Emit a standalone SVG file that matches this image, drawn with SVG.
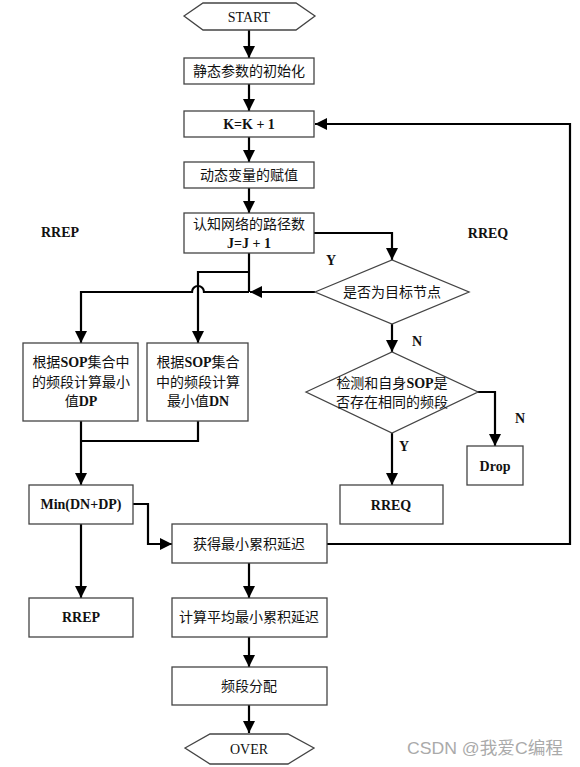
<svg xmlns="http://www.w3.org/2000/svg" width="580" height="767" viewBox="0 0 580 767">
<defs>
<marker id="ah" markerUnits="userSpaceOnUse" markerWidth="12" markerHeight="12" viewBox="0 0 12 12" refX="12" refY="6" orient="auto">
<path d="M0,0 L12,6 L0,12 z" fill="#000"/>
</marker>
<style>
.b{fill:#fff;stroke:#444;stroke-width:1.3}
.c{fill:none;stroke:#000;stroke-width:2.2}
.a{marker-end:url(#ah)}
.t{font-family:"Liberation Serif","Noto Sans CJK SC",serif;font-size:14px;fill:#111;text-anchor:middle;dominant-baseline:central}
.e{font-weight:bold}
.w{font-family:"Liberation Sans","Noto Sans CJK SC",sans-serif;font-size:17px;fill:#aaa}
</style>
</defs>
<rect width="580" height="767" fill="#fff"/>
<g id="connectors">
<path class="c a" d="M249,30 V58"/>
<path class="c a" d="M249,84 V111"/>
<path class="c a" d="M249,137 V162"/>
<path class="c a" d="M249,188 V213"/>
<path class="c a" d="M314,233 H392 V260"/>
<path class="c a" d="M315,292 H250"/>
<path class="c" d="M249,253 V292"/>
<path class="c a" d="M249,272 H198 V343"/>
<path class="c a" d="M249,292 H204 A6,6 0 0 0 192,292 H81 V343"/>
<path class="c" d="M198,421 V441 H81"/>
<path class="c a" d="M81,421 V485"/>
<path class="c a" d="M133,504 H148 V544 H172"/>
<path class="c a" d="M81,524 V598"/>
<path class="c a" d="M249,563 V598"/>
<path class="c a" d="M249,637 V667"/>
<path class="c a" d="M249,705 V733"/>
<path class="c a" d="M327,544 H570 V124 H315"/>
<path class="c a" d="M392,323 V352"/>
<path class="c a" d="M477,392 H495 V446"/>
<path class="c a" d="M392,433 V485"/>
</g>
<g id="start">
<polygon class="b" points="184,16 203,3 296,3 315,16 296,30 203,30"/>
<text class="t" x="249" y="17">START</text>
</g>
<g id="init">
<rect class="b" x="184" y="58" width="130" height="26"/>
<text class="t" x="249" y="71">静态参数的初始化</text>
</g>
<g id="kinc">
<rect class="b" x="184" y="111" width="130" height="26"/>
<text class="t e" x="249" y="124">K=K + 1</text>
</g>
<g id="assign">
<rect class="b" x="184" y="162" width="130" height="26"/>
<text class="t" x="249" y="175">动态变量的赋值</text>
</g>
<g id="paths">
<rect class="b" x="184" y="213" width="130" height="40"/>
<text class="t" x="249" y="224">认知网络的路径数</text>
<text class="t e" x="249" y="243">J=J + 1</text>
</g>
<g id="isdest">
<polygon class="b" points="315,292 392,260 469,292 392,324"/>
<text class="t" x="392" y="292">是否为目标节点</text>
</g>
<g id="dp">
<rect class="b" x="23" y="343" width="115" height="78"/>
<text class="t" x="81" y="362">根据<tspan class="e">SOP</tspan>集合中</text>
<text class="t" x="81" y="382">的频段计算最小</text>
<text class="t" x="81" y="401">值<tspan class="e">DP</tspan></text>
</g>
<g id="dn">
<rect class="b" x="147" y="343" width="101" height="78"/>
<text class="t" x="198" y="362">根据<tspan class="e">SOP</tspan>集合</text>
<text class="t" x="198" y="382">中的频段计算</text>
<text class="t" x="198" y="401">最小值<tspan class="e">DN</tspan></text>
</g>
<g id="check">
<polygon class="b" points="306,392 392,352 478,392 392,433"/>
<text class="t" x="392" y="383">检测和自身<tspan class="e">SOP</tspan>是</text>
<text class="t" x="392" y="402">否存在相同的频段</text>
</g>
<g id="drop">
<rect class="b" x="467" y="446" width="56" height="39"/>
<text class="t e" x="495" y="466">Drop</text>
</g>
<g id="rreq">
<rect class="b" x="340" y="485" width="103" height="39"/>
<text class="t e" x="391" y="505">RREQ</text>
</g>
<g id="min">
<rect class="b" x="29" y="485" width="104" height="39"/>
<text class="t e" x="81" y="504">Min(DN+DP)</text>
</g>
<g id="rrep">
<rect class="b" x="29" y="598" width="104" height="39"/>
<text class="t e" x="81" y="617">RREP</text>
</g>
<g id="getmin">
<rect class="b" x="172" y="524" width="155" height="39"/>
<text class="t" x="249" y="544">获得最小累积延迟</text>
</g>
<g id="avg">
<rect class="b" x="172" y="598" width="155" height="39"/>
<text class="t" x="249" y="617">计算平均最小累积延迟</text>
</g>
<g id="alloc">
<rect class="b" x="172" y="667" width="155" height="38"/>
<text class="t" x="249" y="686">频段分配</text>
</g>
<g id="over">
<polygon class="b" points="185,748 210,734 288,734 314,748 288,764 210,764"/>
<text class="t" x="249" y="749">OVER</text>
</g>
<g id="labels">
<text class="t e" x="60" y="232">RREP</text>
<text class="t e" x="488" y="233">RREQ</text>
<text class="t e" x="331" y="260">Y</text>
<text class="t e" x="417" y="341">N</text>
<text class="t e" x="520" y="418">N</text>
<text class="t e" x="404" y="446">Y</text>
</g>
<text class="w" x="407" y="754" textLength="156" lengthAdjust="spacingAndGlyphs">CSDN @我爱C编程</text>
</svg>
